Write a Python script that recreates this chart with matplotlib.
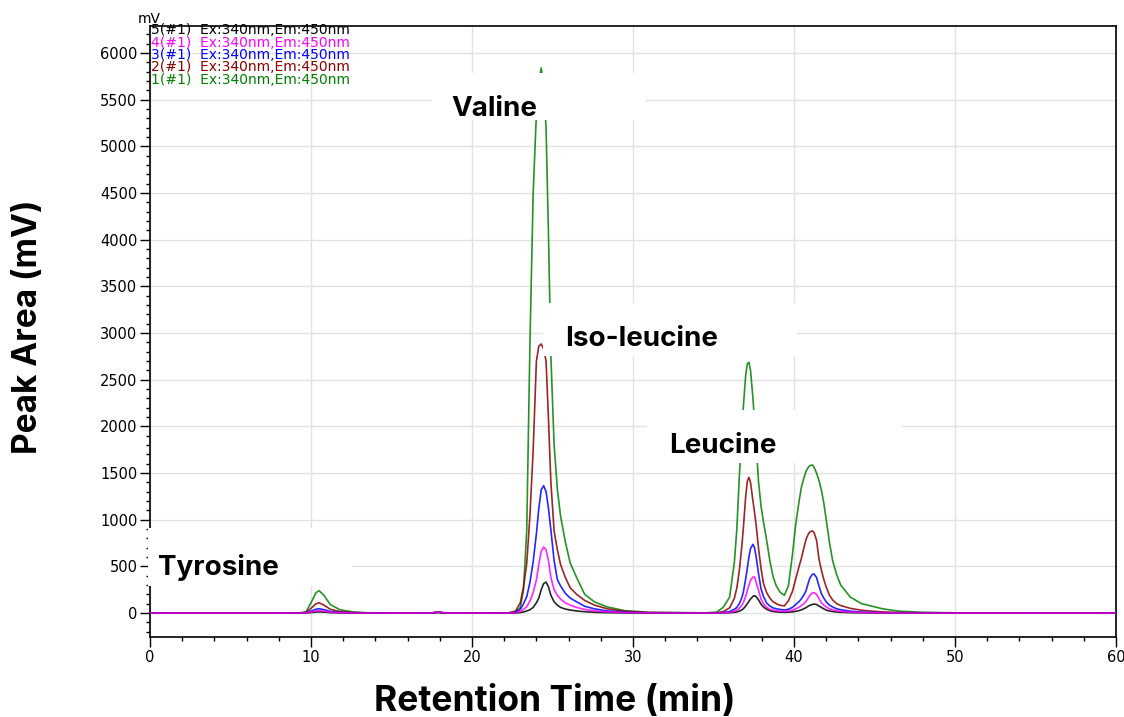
import matplotlib
matplotlib.use("Agg")
import matplotlib.pyplot as plt
from matplotlib.patches import Rectangle
from matplotlib.ticker import MultipleLocator

# Retention time grid (min) shared by the five traces
time = [0, 9.3, 9.7, 10.0, 10.3, 10.5, 10.8, 11.2, 11.8, 12.6, 13.5, 17.4, 17.9, 18.4,
        22.2, 22.7, 23.0, 23.2, 23.4, 23.6, 23.8, 24.0, 24.15, 24.3, 24.45, 24.6, 24.75,
        24.9, 25.1, 25.3, 25.5, 25.8, 26.1, 26.5, 27.0, 27.6, 28.4, 29.5, 31.0,
        34.5, 35.2, 35.6, 36.0, 36.3, 36.45, 36.6, 36.75, 36.85, 37.0,
        37.1, 37.2, 37.3, 37.45, 37.55, 37.65, 37.8, 37.95, 38.1, 38.3,
        38.5, 38.7, 38.9, 39.15, 39.4, 39.65, 39.9, 40.1, 40.3, 40.45,
        40.6, 40.75, 40.9, 41.0, 41.15, 41.25, 41.4, 41.55, 41.7, 41.85,
        42.0, 42.2, 42.4, 42.65, 42.9, 43.5, 44.2, 44.8, 45.5, 46.5,
        48.0, 50.0, 60.0]

# signal (mV) for each injection
sig1 = [0, 0, 15, 110, 215, 240, 190, 90, 35, 12, 3, 0, 10, 0,
        0, 10, 60, 250, 890, 2900, 4500, 5350, 5700, 5840, 5650, 5200, 4050, 2750, 1800,
        1330, 1040, 760, 535, 380, 200, 120, 65, 25, 8,
        2, 10, 60, 170, 550, 900, 1450, 1900, 2200, 2550,
        2670, 2686, 2600, 2300, 2050, 1800, 1400, 1150, 980, 780,
        560, 390, 290, 220, 190, 290, 620, 940, 1180, 1340,
        1440, 1520, 1565, 1580, 1586, 1560, 1500, 1420, 1318, 1180,
        1000, 760, 560, 410, 300, 170, 100, 75, 45, 20,
        8, 2, 0]
sig2 = [0, 0, 6, 50, 98, 110, 85, 40, 15, 5, 1, 0, 8, 0,
        0, 20, 110, 280, 530, 1050, 1750, 2700, 2860, 2883, 2830, 2700, 2080, 1400, 880,
        680, 520, 380, 270, 200, 135, 85, 45, 18, 5,
        0, 2, 15, 55, 160, 270, 450, 700, 900, 1250,
        1410, 1454, 1400, 1200, 1080, 940, 690, 480, 320, 220,
        160, 121, 100, 82, 76, 130, 230, 360, 490, 580,
        690, 790, 850, 872, 879, 860, 780, 580, 460, 360,
        280, 190, 140, 100, 80, 50, 30, 20, 12, 5,
        2, 0, 0]
sig3 = [0, 0, 3, 20, 40, 46, 36, 16, 6, 2, 0, 0, 8, 0,
        0, 5, 40, 100, 175, 330, 550, 850, 1120, 1320, 1364, 1300, 1120, 890, 560, 360,
        290, 210, 160, 120, 72, 45, 22, 8, 2,
        0, 0, 5, 15, 40, 60, 100, 160, 220, 368,
        480, 600, 690, 736, 700, 600, 420, 260, 180, 107,
        75, 55, 45, 38, 32, 40, 60, 90, 120, 150,
        190, 240, 330, 380, 415, 418, 380, 290, 209, 160,
        120, 85, 65, 45, 35, 20, 10, 6, 3, 1,
        0, 0, 0]
sig4 = [0, 0, 2, 11, 22, 25, 20, 9, 3, 1, 0, 0, 8, 0,
        0, 2, 15, 40, 68, 130, 220, 354, 520, 660, 707, 680, 560, 380, 250, 190, 150,
        108, 85, 60, 38, 24, 12, 5, 1,
        0, 0, 2, 7, 20, 30, 50, 80, 110, 180,
        240, 300, 350, 385, 385, 330, 240, 150, 100, 60,
        40, 30, 24, 20, 18, 22, 30, 45, 60, 78,
        100, 125, 165, 195, 215, 218, 200, 155, 110, 85,
        65, 45, 35, 24, 18, 10, 5, 3, 1, 0,
        0, 0, 0]
sig5 = [0, 0, 1, 5, 11, 12, 10, 4, 2, 0, 0, 0, 6, 0,
        0, 0, 5, 12, 22, 35, 60, 110, 160, 250, 315, 332, 280, 190, 120, 85, 60, 42, 32,
        22, 14, 8, 4, 1, 0,
        0, 0, 1, 3, 8, 12, 20, 32, 45, 75,
        100, 125, 150, 178, 186, 175, 140, 95, 65, 40,
        25, 16, 12, 9, 8, 9, 12, 18, 25, 33,
        45, 58, 75, 84, 92, 95, 92, 75, 60, 45,
        32, 22, 16, 11, 8, 4, 2, 1, 0, 0,
        0, 0, 0]

trace_names = ["1(#1)  Ex:340nm,Em:450nm", "2(#1)  Ex:340nm,Em:450nm",
               "3(#1)  Ex:340nm,Em:450nm", "4(#1)  Ex:340nm,Em:450nm",
               "5(#1)  Ex:340nm,Em:450nm"]
trace_colors = ["#008000", "#8b0000", "#0000ff", "#ff00ff", "#000000"]

peak_names = ["Valine", "Iso-leucine", "Leucine", "Tyrosine"]

W, H = 1124, 717
fig = plt.figure(figsize=(W / 100, H / 100), dpi=100)
ax = fig.add_axes([150 / W, 1 - 637 / H, 966 / W, 611 / H])

# draw green first so the small traces sit on top
for sig, col in zip([sig1, sig2, sig3, sig5, sig4],
                    [trace_colors[0], trace_colors[1], trace_colors[2], trace_colors[4], trace_colors[3]]):
    ax.plot(time, sig, color=col, lw=1.2, alpha=0.85, zorder=3)

ax.set_xlim(0, 60)
ax.set_ylim(-257, 6290)
ax.xaxis.set_major_locator(MultipleLocator(10))
ax.xaxis.set_minor_locator(MultipleLocator(2))
ax.yaxis.set_major_locator(MultipleLocator(500))
ax.yaxis.set_minor_locator(MultipleLocator(100))
ax.grid(True, which="major", color="#e2e2e2", lw=1, zorder=0)
ax.tick_params(which="major", direction="out", length=7, width=1, pad=2, labelsize=10.5)
ax.tick_params(which="minor", direction="out", length=3, width=1)
for lab in ax.get_xticklabels() + ax.get_yticklabels():
    lab.set_family("DejaVu Sans")
for sp in ax.spines.values():
    sp.set_linewidth(1.2)

fig.text(138 / W, 1 - 23 / H, "mV", fontsize=10, va="baseline")

# trace legend written at the top-left corner, 5 on top
for i, k in enumerate([4, 3, 2, 1, 0]):
    fig.text(151 / W, 1 - (34.5 + 12.25 * i) / H, trace_names[k], color=trace_colors[k],
             fontsize=10, va="baseline", zorder=5)

# white label boxes (x0, x1, y0, y1 in data units) and text anchor/clip
boxes = [(17.5, 30.75, 5282, 5786), (24.4, 40.2, 2754, 3321),
         (30.9, 46.7, 1607, 2175), (-0.12, 12.55, 289, 911)]
anchors = [(18.74, 5325, 5357), (25.78, 2861, 2840), (32.24, 1717, 1690), (0.5, 407, 402)]
for name, (x0, x1, y0, y1), (tx, ty, cy) in zip(peak_names, boxes, anchors):
    ax.add_patch(Rectangle((x0, y0), x1 - x0, y1 - y0, facecolor="white",
                           edgecolor="none", zorder=6, clip_on=False))
    clip = Rectangle((x0, cy), x1 - x0, y1 - cy, transform=ax.transData, visible=False)
    ax.add_artist(clip)
    t = ax.text(tx, ty, name, fontsize=20, fontweight="bold", family="Inter",
                va="baseline", zorder=7)
    t.set_clip_path(clip)

fig.text(555 / W, 1 - 711 / H, "Retention Time (min)", fontsize=25.5, fontweight="bold",
         family="Inter", ha="center", va="baseline")
fig.text(12 / W, 1 - 327 / H, "Peak Area (mV)", fontsize=24, fontweight="bold",
         family="Inter", rotation=90, ha="left", va="center")

fig.savefig("out.png", dpi=100)
